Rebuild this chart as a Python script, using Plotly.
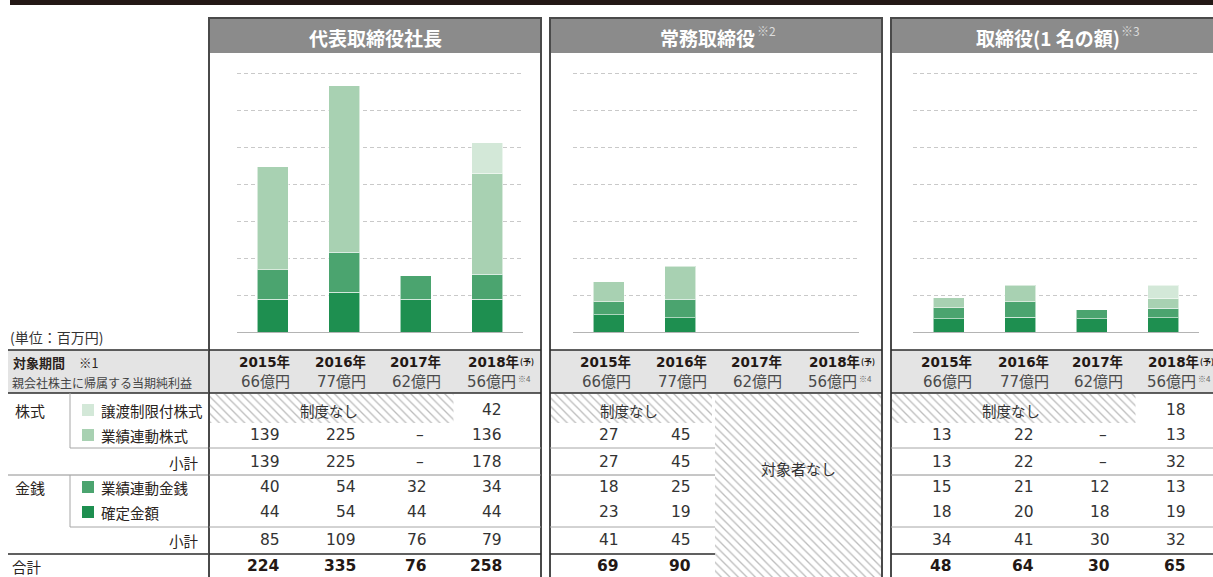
import plotly.graph_objects as go

W, H = 1213, 577

# ---------------- data ----------------
years = ["2015年", "2016年", "2017年", "2018年"]
profits = ["66億円", "77億円", "62億円", "56億円"]
series_names = ["確定金額", "業績連動金銭", "業績連動株式", "譲渡制限付株式"]
series_colors = ["#1e8f50", "#4ba46f", "#a8d1b2", "#d3e8d8"]

panel_titles = ["代表取締役社長", "常務取締役", "取締役(1 名の額)"]
panel_notes = ["", "※2", "※3"]

# 代表取締役社長
ceo_fixed = [44, 54, 44, 44]
ceo_perf_cash = [40, 54, 32, 34]
ceo_perf_stock = [139, 225, None, 136]
ceo_restricted = [None, None, None, 42]
ceo_stock_sub = [139, 225, None, 178]
ceo_cash_sub = [85, 109, 76, 79]
ceo_total = [224, 335, 76, 258]

# 常務取締役
md_fixed = [23, 19, None, None]
md_perf_cash = [18, 25, None, None]
md_perf_stock = [27, 45, None, None]
md_restricted = [None, None, None, None]
md_stock_sub = [27, 45, None, None]
md_cash_sub = [41, 45, None, None]
md_total = [69, 90, None, None]

# 取締役(1名の額)
dir_fixed = [18, 20, 18, 19]
dir_perf_cash = [15, 21, 12, 13]
dir_perf_stock = [13, 22, None, 13]
dir_restricted = [None, None, None, 18]
dir_stock_sub = [13, 22, None, 32]
dir_cash_sub = [34, 41, 30, 32]
dir_total = [48, 64, 30, 65]

# ---------------- layout helpers ----------------
FONT = "Noto Sans CJK JP, Noto Sans, sans-serif"
NUMFONT = "DejaVu Sans, Noto Sans CJK JP, sans-serif"
TXT = "#2a2320"


def px(x):
    return x / W


def py(y):
    return 1 - y / H


annotations = []
shapes = []


def txt(x, y, s, size=15, anchor="center", color=TXT, bold=False, family=FONT):
    if bold:
        s = "<b>" + s + "</b>"
    annotations.append(dict(x=px(x), y=py(y), xref="paper", yref="paper", text=s,
                            showarrow=False, xanchor=anchor, yanchor="middle",
                            borderpad=0,
                            font=dict(family=family, size=size, color=color)))


def rect(x0, y0, x1, y1, fill=None, line=None, lw=0, layer="below"):
    shapes.append(dict(type="rect", xref="paper", yref="paper",
                       x0=px(x0), x1=px(x1), y0=py(y0), y1=py(y1),
                       fillcolor=fill if fill else "rgba(0,0,0,0)",
                       line=dict(color=line if line else "rgba(0,0,0,0)", width=lw),
                       layer=layer))


def hline(x0, x1, y, color, lw=1):
    shapes.append(dict(type="line", xref="paper", yref="paper",
                       x0=px(x0), x1=px(x1), y0=py(y), y1=py(y),
                       line=dict(color=color, width=lw), layer="above"))


def vline(x, y0, y1, color, lw=1):
    shapes.append(dict(type="line", xref="paper", yref="paper",
                       x0=px(x), x1=px(x), y0=py(y0), y1=py(y1),
                       line=dict(color=color, width=lw), layer="above"))


fig = go.Figure()


def hatch(x0, y0, x1, y1):
    fig.add_trace(go.Scatter(
        x=[x0, x1, x1, x0, x0], y=[y0, y0, y1, y1, y0], mode="lines",
        fill="toself", fillcolor="white",
        fillpattern=dict(shape="\\", fgcolor="#7a7a7a", bgcolor="white", size=6, solidity=0.22),
        line=dict(color="rgba(0,0,0,0)", width=0),
        xaxis="x4", yaxis="y4", hoverinfo="skip", showlegend=False))


# ---------------- geometry ----------------
BASE_PX = 332
PPU = 259 / 350          # pixels per million yen
YMAX = 352
TOP_PX = BASE_PX - YMAX * PPU

panels = [
    dict(left=209, plot=(237, 523),
         data=[ceo_fixed, ceo_perf_cash, ceo_perf_stock, ceo_restricted],
         stock_sub=ceo_stock_sub, cash_sub=ceo_cash_sub, total=ceo_total,
         num_x=[281, 357, 428, 503], hdr_x=[291, 367, 442, 520], title_w=133),
    dict(left=550, plot=(573, 859),
         data=[md_fixed, md_perf_cash, md_perf_stock, md_restricted],
         stock_sub=md_stock_sub, cash_sub=md_cash_sub, total=md_total,
         num_x=[620, 692, 769, 844], hdr_x=[632, 708, 783, 861], title_w=95),
    dict(left=891, plot=(913, 1199),
         data=[dir_fixed, dir_perf_cash, dir_perf_stock, dir_restricted],
         stock_sub=dir_stock_sub, cash_sub=dir_cash_sub, total=dir_total,
         num_x=[953, 1035, 1111, 1187], hdr_x=[973, 1050, 1124, 1200], title_w=142),
]
PANEL_W = 332
COL_W = 82.5

ROW_Y = [410, 435, 462, 487, 512, 540, 566]
HDR_TOP, HDR_BOT = 350, 393
L_LINE1, L_LINE2, L_LINE3, L_LINE4 = 448, 475, 527, 554
DARK = "#2b2b2b"
LIGHT = "#a6a6a6"
MID = "#8e8e8e"
BORDER = "#4a4a4a"

layout_axes = {}

# top dark band
rect(10, 0, W + 5, 5, fill="#231815")

# left column of the table
txt(9, 337, "(単位：百万円)", size=14, anchor="left", color="#333")
rect(8, HDR_TOP, 209, HDR_BOT, fill="#e4e4e4")
hline(8, 209, HDR_TOP, DARK, 1.5)
hline(8, 209, HDR_BOT, DARK, 1.5)
txt(12, 362, "対象期間", size=13, anchor="left", bold=True)
txt(78, 362, "※1", size=12.5, anchor="left")
txt(11, 383, "親会社株主に帰属する当期純利益", size=12, anchor="left", color="#444")
txt(14, ROW_Y[0], "株式", size=15, anchor="left")
txt(14, ROW_Y[3], "金銭", size=15, anchor="left")
legend_rows = [(ROW_Y[0], 3), (ROW_Y[1], 2), (ROW_Y[3], 1), (ROW_Y[4], 0)]
for yy, si in legend_rows:
    rect(82, yy - 6, 94, yy + 6, fill=series_colors[si])
    txt(100, yy, series_names[si], size=14.5, anchor="left")
txt(200, ROW_Y[2], "小計", size=14.5, anchor="right")
txt(200, ROW_Y[5], "小計", size=14.5, anchor="right")
txt(11, ROW_Y[6], "合計", size=14.5, anchor="left")
hline(70, 209, L_LINE1, LIGHT)
hline(8, 209, L_LINE2, MID)
hline(70, 209, L_LINE3, LIGHT)
hline(8, 209, L_LINE4, DARK, 1.5)
vline(70, HDR_BOT, L_LINE1, LIGHT)
vline(70, L_LINE2, L_LINE3, LIGHT)

for k, p in enumerate(panels):
    n = "" if k == 0 else str(k + 1)
    L = p["left"]
    R = L + PANEL_W
    # ---- bars ----
    for s in range(4):
        fig.add_trace(go.Bar(
            x=years, y=p["data"][s], name=series_names[s],
            marker=dict(color=series_colors[s], line=dict(color="rgba(255,255,255,0.55)", width=1)),
            xaxis="x" + n, yaxis="y" + n, showlegend=False, hoverinfo="skip"))
    layout_axes["xaxis" + n] = dict(
        domain=[px(p["plot"][0]), px(p["plot"][1])], anchor="y" + n,
        showticklabels=False, showgrid=False, zeroline=False, ticks="",
        showline=True, linecolor="#b4b4b4", linewidth=1,
        categoryorder="array", categoryarray=years, fixedrange=True)
    layout_axes["yaxis" + n] = dict(
        domain=[py(BASE_PX), py(TOP_PX)], anchor="x" + n, range=[0, YMAX],
        tick0=0, dtick=50, showgrid=True, gridcolor="#c9c9c9", gridwidth=1,
        griddash="4px,3px", showticklabels=False, zeroline=False, ticks="",
        fixedrange=True)

    # ---- panel frame & title ----
    rect(L, 18, R, 53, fill="#8b8b8b")
    rect(L, 18, R, 590, line=BORDER, lw=2, layer="above")
    cx = (L + R) / 2
    if panel_notes[k]:
        cx -= 9
        txt(cx + p["title_w"] / 2 + 1, 31, panel_notes[k], size=12, anchor="left", color="#dcdcdc")
    txt(cx, 37, panel_titles[k], size=19, color="white", bold=True)

    # ---- table header row ----
    rect(L, HDR_TOP, R, HDR_BOT, fill="#e4e4e4")
    hline(L, R, HDR_TOP, DARK, 1.5)
    hline(L, R, HDR_BOT, DARK, 1.5)
    for j in range(4):
        hx = p["hdr_x"][j]
        txt(hx, 362, years[j], size=13.5, anchor="right", color="#231815", bold=True,
            family=NUMFONT)
        txt(hx - (3 if j == 3 else 0), 382, profits[j], size=15, anchor="right",
            color="#4a4a4a", family=NUMFONT)
        if j == 3:
            txt(hx - 1, 361, "(予)", size=8, anchor="left", color="#231815", bold=True)
            txt(hx - 3, 378, "※4", size=8, anchor="left", color="#666")

    # ---- table body ----
    active = [j for j in range(4) if p["total"][j] is not None]
    act_right = L + (max(active) + 1) * COL_W if len(active) < 4 else R
    for yl, col in [(L_LINE1, LIGHT), (L_LINE2, MID), (L_LINE3, LIGHT)]:
        hline(L, act_right, yl, col)
    hline(L, act_right, L_LINE4, DARK, 1.5)

    # columns with no eligible person
    inactive = [j for j in range(4) if p["total"][j] is None]
    if inactive:
        x0 = L + min(inactive) * COL_W
        hatch(x0, HDR_BOT + 1, R - 1, H + 5)
        txt((x0 + R) / 2, 468, "対象者なし", size=15, color="#333")

    # columns where the restricted stock scheme did not exist
    no_scheme = [j for j in active if p["data"][3][j] is None]
    if no_scheme:
        x0 = L + min(no_scheme) * COL_W
        x1 = L + (max(no_scheme) + 1) * COL_W
        hatch(x0 + 1, HDR_BOT + 1, x1 - 3, 423)
        txt((x0 + x1) / 2 - 4, ROW_Y[0], "制度なし", size=14.5, color="#333")

    rows = [p["data"][3], p["data"][2], p["stock_sub"], p["data"][1], p["data"][0],
            p["cash_sub"], p["total"]]
    for j in active:
        for r, vals in enumerate(rows):
            v = vals[j]
            if r == 0 and v is None:
                continue
            s = "–" if v is None else str(v)
            xx = p["num_x"][j] - (3 if v is None else 0)
            txt(xx, ROW_Y[r], s, size=15.5, anchor="right",
                color="#231815" if r == 6 else "#333", bold=(r == 6), family=NUMFONT)

layout_axes["xaxis4"] = dict(domain=[0, 1], range=[0, W], visible=False, fixedrange=True,
                             anchor="y4")
layout_axes["yaxis4"] = dict(domain=[0, 1], range=[H, 0], visible=False, fixedrange=True,
                             anchor="x4")

fig.update_layout(
    width=W, height=H, autosize=False,
    margin=dict(l=0, r=0, t=0, b=0, pad=0),
    paper_bgcolor="white", plot_bgcolor="rgba(0,0,0,0)",
    barmode="stack", bargap=0.57, showlegend=False,
    font=dict(family=FONT, color=TXT),
    shapes=shapes, annotations=annotations,
    **layout_axes)

fig.write_html("out.html", config={"displayModeBar": False})
